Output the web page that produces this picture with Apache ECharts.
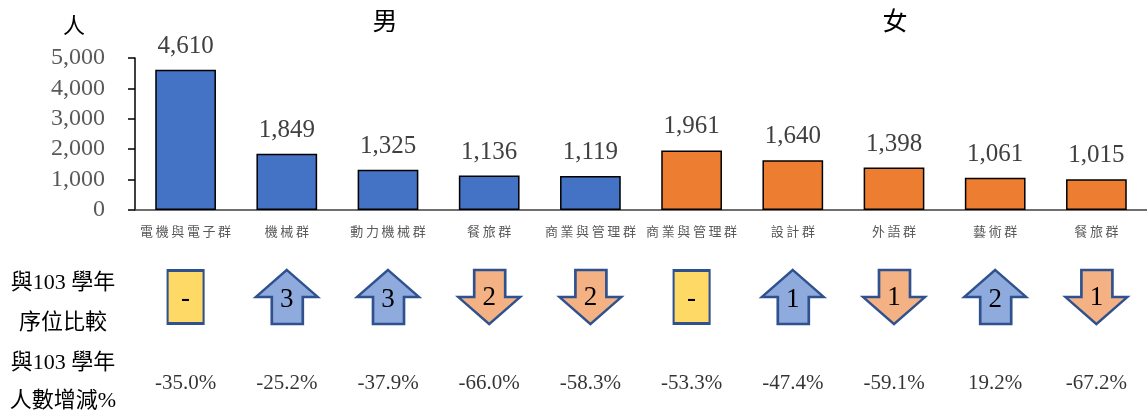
<!DOCTYPE html>
<html>
<head>
<meta charset="utf-8">
<script src="https://cdn.jsdelivr.net/npm/echarts@6/dist/echarts.min.js"></script>
<style>
  html, body { margin: 0; padding: 0; background: #fff; }
  #chart { width: 1147px; height: 412px; }
</style>
</head>
<body>
<div id="chart"></div>
<script>
const categories = ['電機與電子群', '機械群', '動力機械群', '餐旅群', '商業與管理群', '商業與管理群', '設計群', '外語群', '藝術群', '餐旅群']
const maleCount = [4610, 1849, 1325, 1136, 1119, '-', '-', '-', '-', '-']
const femaleCount = ['-', '-', '-', '-', '-', 1961, 1640, 1398, 1061, 1015]
// 與103學年序位比較: 正數上升, 負數下降, '-' 持平
const rankChange = ['-', 3, 3, -2, -2, '-', 1, -1, 2, -1]
// 與103學年人數增減%
const pctChange = [-35.0, -25.2, -37.9, -66.0, -58.3, -53.3, -47.4, -59.1, 19.2, -67.2]
const yMin = 0
const yMax = 5000
const yStep = 1000
const groupTitles = ['男', '女']
const rowLabels = ['與103 學年', '序位比較', '與103 學年', '人數增減%']

const SERIF = "'Liberation Serif', 'Noto Sans CJK TC', serif"
const CJK = "'Noto Sans CJK TC', sans-serif"

const UP = 'path://M31,0L62,27L47,27L47,54L16,54L16,27L0,27Z'
const DOWN = 'path://M16,0L47,0L47,27L62,27L31,54L0,27L16,27Z'

// rows of the lower table, in units of the hidden y axis (0 = top)
const ROW_RANK = 85
const ROW_PCT = 171

function rankItem (v, i) {
  const base = { value: [i, ROW_RANK] }
  if (v === '-') {
    return Object.assign(base, {
      symbol: 'rect',
      symbolSize: [36, 53],
      itemStyle: { color: '#FFD966' },
      label: { formatter: '-', offset: [0, 2] }
    })
  }
  const up = v > 0
  return Object.assign(base, {
    symbol: up ? UP : DOWN,
    symbolSize: [62, 54],
    itemStyle: { color: up ? '#8FAADC' : '#F4B183' },
    label: { formatter: String(Math.abs(v)), offset: [0, up ? 3 : 1] }
  })
}

function text (str, x, y, size, color) {
  return {
    type: 'text',
    x,
    y,
    style: {
      text: str,
      font: size + 'px ' + SERIF,
      fill: color || '#000',
      align: 'center',
      verticalAlign: 'middle'
    }
  }
}

const barLabel = {
  show: true,
  position: 'top',
  distance: 11,
  color: '#404040',
  fontSize: 25,
  fontFamily: SERIF,
  formatter: p => p.value.toLocaleString('en-US')
}

const chart = echarts.init(document.getElementById('chart'))

chart.setOption({
  animation: false,
  grid: [
    { left: 135, right: -2, top: 58, bottom: 202 },
    { left: 135, right: -2, top: 212, height: 200 }
  ],
  xAxis: [
    {
      type: 'category',
      gridIndex: 0,
      data: categories,
      axisTick: { show: false },
      axisLine: { lineStyle: { color: '#404040', width: 1.5 } },
      axisLabel: {
        interval: 0,
        margin: 15,
        color: '#595959',
        fontSize: 13,
        fontFamily: CJK,
        formatter: v => v.split('').join('\u2009')
      }
    },
    {
      type: 'category',
      gridIndex: 1,
      data: categories,
      show: false
    }
  ],
  yAxis: [
    {
      type: 'value',
      gridIndex: 0,
      min: yMin,
      max: yMax,
      interval: yStep,
      splitLine: { show: false },
      axisLine: { show: true, lineStyle: { color: '#000', width: 1.5 } },
      axisTick: { show: true, length: 7, lineStyle: { color: '#000', width: 1.5 } },
      axisLabel: {
        margin: 30,
        color: '#595959',
        fontSize: 24,
        fontFamily: SERIF,
        formatter: v => v.toLocaleString('en-US')
      }
    },
    {
      type: 'value',
      gridIndex: 1,
      min: 0,
      max: 200,
      inverse: true,
      show: false
    }
  ],
  series: [
    {
      name: groupTitles[0],
      type: 'bar',
      stack: 'all',
      data: maleCount,
      barCategoryGap: '40%',
      itemStyle: { color: '#4472C4', borderColor: '#000', borderWidth: 1.5 },
      label: barLabel
    },
    {
      name: groupTitles[1],
      type: 'bar',
      stack: 'all',
      data: femaleCount,
      barCategoryGap: '40%',
      itemStyle: { color: '#ED7D31', borderColor: '#000', borderWidth: 1.5 },
      label: barLabel
    },
    {
      type: 'scatter',
      xAxisIndex: 1,
      yAxisIndex: 1,
      data: rankChange.map(rankItem),
      itemStyle: { opacity: 1, borderColor: '#2F528F', borderWidth: 2.5 },
      label: {
        show: true,
        position: 'inside',
        color: '#000',
        fontSize: 27,
        fontFamily: SERIF
      },
      silent: true
    },
    {
      type: 'scatter',
      xAxisIndex: 1,
      yAxisIndex: 1,
      data: pctChange.map((v, i) => [i, ROW_PCT]),
      symbolSize: 1,
      itemStyle: { color: 'rgba(0,0,0,0)' },
      label: {
        show: true,
        position: 'inside',
        color: '#000',
        fontSize: 21,
        fontFamily: SERIF,
        formatter: p => pctChange[p.dataIndex].toFixed(1) + '%'
      },
      silent: true
    }
  ],
  graphic: [
    text('人', 74, 27, 22),
    text(groupTitles[0], 385, 23, 25),
    text(groupTitles[1], 895, 23, 25),
    text(rowLabels[0], 63, 283, 22),
    text(rowLabels[1], 63, 323, 22),
    text(rowLabels[2], 63, 363, 22),
    text(rowLabels[3], 63, 401, 22)
  ]
})
</script>
</body>
</html>
